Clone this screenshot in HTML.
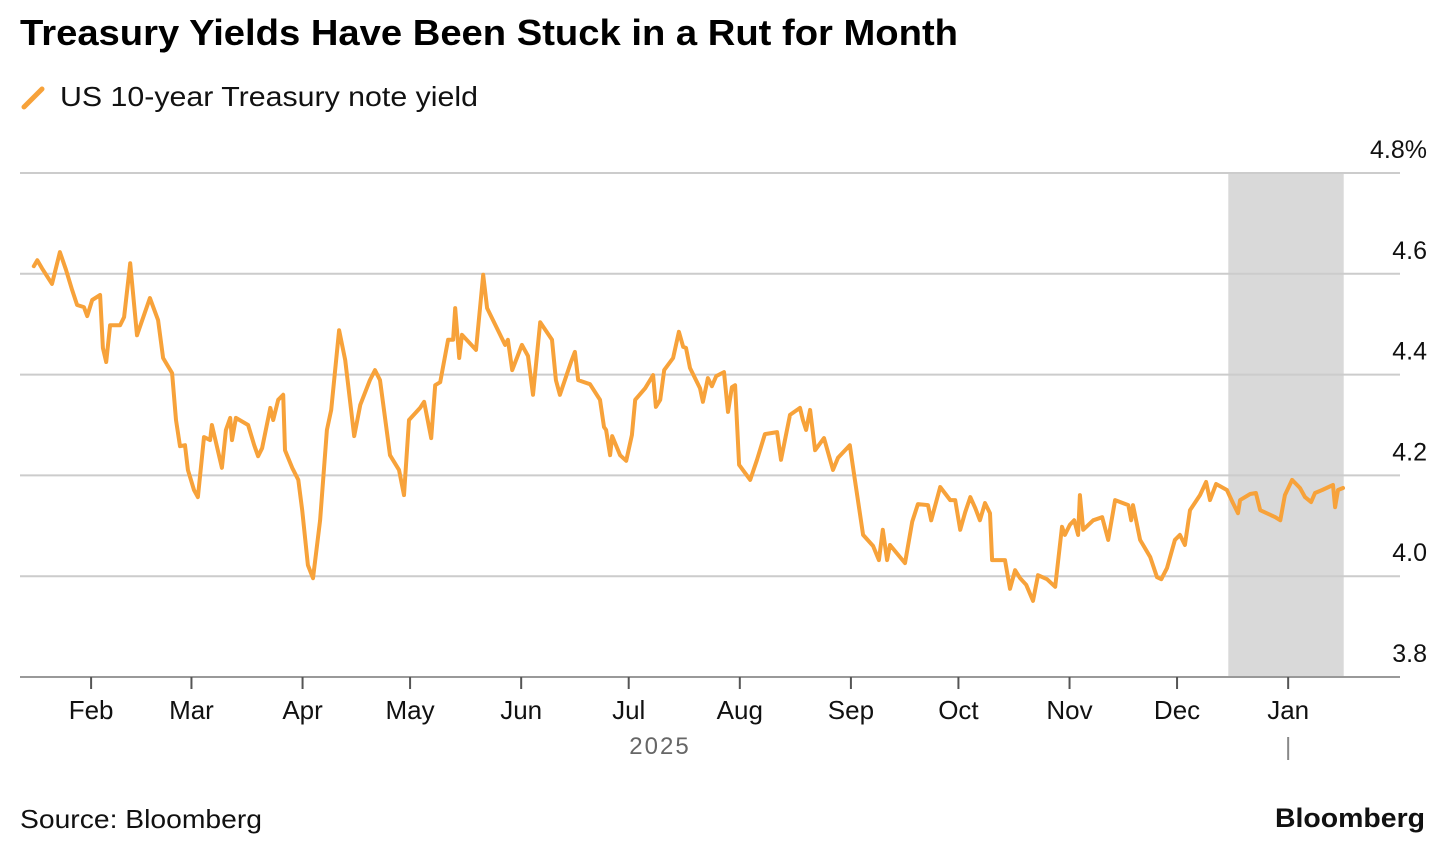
<!DOCTYPE html>
<html><head><meta charset="utf-8"><style>
body{margin:0;background:#fff;width:1456px;height:855px;overflow:hidden;font-family:"Liberation Sans",sans-serif}
</style></head><body>
<svg width="1456" height="855">
<text x="20" y="45" font-size="36" font-weight="bold" fill="#000" font-family="Liberation Sans" textLength="938" lengthAdjust="spacingAndGlyphs">Treasury Yields Have Been Stuck in a Rut for Month</text>
<g>
<line x1="24" y1="107" x2="42" y2="89" stroke="#f7a23a" stroke-width="5" stroke-linecap="round"/>
<text x="60" y="106" font-size="28" fill="#111" textLength="418" lengthAdjust="spacingAndGlyphs">US 10-year Treasury note yield</text>
</g>
<g id="plot"></g>
<text x="20" y="828" font-size="26" fill="#111" textLength="242" lengthAdjust="spacingAndGlyphs">Source: Bloomberg</text>
<text x="1275" y="827" font-size="27" font-weight="bold" fill="#111" textLength="150" lengthAdjust="spacingAndGlyphs">Bloomberg</text>
</svg>
<script>
const days=[15,16,17.3,20.1,22.3,24,25.7,27.1,29,29.9,31.3,33.5,34.3,35.2,36.3,39.1,40.2,41.9,43.8,47.4,49.7,51.1,53.6,54.7,55.8,57.2,58,59.7,60.8,62.5,64.2,64.7,67.5,68.6,69.8,70.3,71.4,74.8,76.5,77.6,78.7,81,81.8,83.2,84.6,85.1,87.1,88.8,89.9,91.5,92.9,94.9,96.8,98,100.2,101.9,104.4,106.1,108.8,110.2,111.6,114.4,116.9,118.3,119.7,122.8,123.9,125.9,127,128.4,130.6,132,132.6,133.7,134.5,138.4,140.4,141.5,146.5,147.3,148.5,151.2,152.9,154.3,156.3,159.6,160.7,161.8,164.9,166,166.9,170.2,173,174.1,174.7,175.8,176.4,178.6,180.3,181.9,182.8,185.6,187.8,188.6,189.8,190.9,193.4,195,196.2,197,198.1,200.9,201.7,203.1,204.2,205.4,207.6,208.7,209.8,210.7,211.8,214.9,216.8,219,222.4,223.5,226,228.8,229.6,230.5,231.6,233,235.5,238,239.4,242.7,244.1,246.4,249.2,250.8,251.9,253.1,253.9,258.1,260.1,261.7,264.5,265.4,267.9,270.7,272.1,273.5,274.9,276.3,277.7,279,280.4,281.8,282.4,286,287.4,288.8,290.2,291.9,293.8,295.2,297.7,300,301.9,302.7,304.1,305.3,306.4,306.9,307.8,310.6,313.1,314.8,316.7,320.4,321.2,321.7,323.7,326.5,328.4,329.6,331.2,333.4,334.8,336.2,337.6,340.4,342.1,343.2,344.9,347.9,349.6,351,351.6,354.4,356,357.2,361.4,362.8,364.1,366.1,368.3,369.7,371.4,372.5,374.5,377.5,378.1,378.9,380.3];
const yields=[4.615,4.627,4.611,4.58,4.643,4.608,4.568,4.538,4.534,4.516,4.548,4.558,4.453,4.425,4.498,4.498,4.514,4.621,4.478,4.552,4.508,4.433,4.403,4.31,4.258,4.26,4.211,4.171,4.157,4.276,4.27,4.3,4.215,4.29,4.314,4.27,4.314,4.3,4.26,4.238,4.254,4.334,4.31,4.35,4.36,4.25,4.215,4.191,4.131,4.022,3.996,4.111,4.29,4.33,4.488,4.429,4.278,4.34,4.389,4.409,4.389,4.24,4.211,4.161,4.31,4.334,4.346,4.274,4.379,4.385,4.469,4.469,4.532,4.433,4.479,4.449,4.598,4.532,4.459,4.469,4.409,4.459,4.437,4.36,4.504,4.469,4.389,4.36,4.425,4.445,4.389,4.381,4.35,4.296,4.29,4.24,4.278,4.24,4.229,4.28,4.35,4.373,4.399,4.336,4.35,4.409,4.433,4.485,4.455,4.453,4.413,4.373,4.346,4.393,4.377,4.397,4.405,4.326,4.375,4.379,4.221,4.191,4.231,4.282,4.286,4.231,4.32,4.334,4.31,4.29,4.33,4.25,4.274,4.211,4.235,4.26,4.191,4.082,4.06,4.032,4.092,4.032,4.062,4.026,4.108,4.143,4.141,4.111,4.177,4.151,4.151,4.092,4.127,4.157,4.135,4.111,4.145,4.125,4.032,4.032,3.975,4.012,3.996,3.983,3.951,4.002,3.994,3.979,4.098,4.082,4.102,4.111,4.082,4.161,4.092,4.111,4.117,4.072,4.151,4.141,4.111,4.141,4.072,4.038,3.998,3.994,4.016,4.072,4.082,4.062,4.131,4.161,4.187,4.151,4.183,4.171,4.145,4.125,4.151,4.163,4.165,4.131,4.117,4.111,4.161,4.191,4.175,4.157,4.147,4.165,4.171,4.181,4.137,4.171,4.175];
const yTicks=[3.8,4.0,4.2,4.4,4.6,4.8];
const yTickLabels=["3.8","4.0","4.2","4.4","4.6","4.8%"];
const monthDays=[31,59,90,120,151,181,212,243,273,304,334,365];
const monthLabels=["Feb","Mar","Apr","May","Jun","Jul","Aug","Sep","Oct","Nov","Dec","Jan"];
const shadeRange=[348.3,380.5];

const NS="http://www.w3.org/2000/svg";
const g=document.getElementById('plot');
const xS=d=>-20+d*3.584;
const yS=v=>677-(v-3.8)*504;
function mk(t,a,p){const e=document.createElementNS(NS,t);for(const k in a)e.setAttribute(k,a[k]);(p||g).appendChild(e);return e;}

const sh=mk('rect',{x:xS(shadeRange[0]),y:yS(4.8),width:xS(shadeRange[1])-xS(shadeRange[0]),height:yS(3.8)-yS(4.8),fill:'#d9d9d9'});



yTicks.forEach((v,i)=>{
 const l=mk('line',{x1:20,x2:1400,y1:yS(v),y2:yS(v),stroke:i==0?'#999':'#ccc','stroke-width':2});
 
 
 const t=mk('text',{x:1427,y:yS(v)-15,'font-size':25,fill:'#111','text-anchor':'end'});
 t.textContent=yTickLabels[i];
 
 
});
monthDays.forEach((d,i)=>{
 const l=mk('line',{x1:xS(d),x2:xS(d),y1:677,y2:689,stroke:'#555','stroke-width':2});
 
 
 const t=mk('text',{x:xS(d),y:719,'font-size':26,fill:'#111','text-anchor':'middle'});
 t.textContent=monthLabels[i];
 
 
});
const yr=mk('text',{x:660,y:754,'font-size':24,fill:'#666','text-anchor':'middle','letter-spacing':'2'});
yr.textContent='2025';


const yl=mk('line',{x1:xS(365),x2:xS(365),y1:737,y2:760,stroke:'#888','stroke-width':2});



const pts=days.map((d,i)=>xS(d).toFixed(1)+','+yS(yields[i]).toFixed(1)).join(' ');
const pl=mk('polyline',{points:pts,fill:'none',stroke:'#f7a23a','stroke-width':4,'stroke-linejoin':'round','stroke-linecap':'round'});


</script>
</body></html>
